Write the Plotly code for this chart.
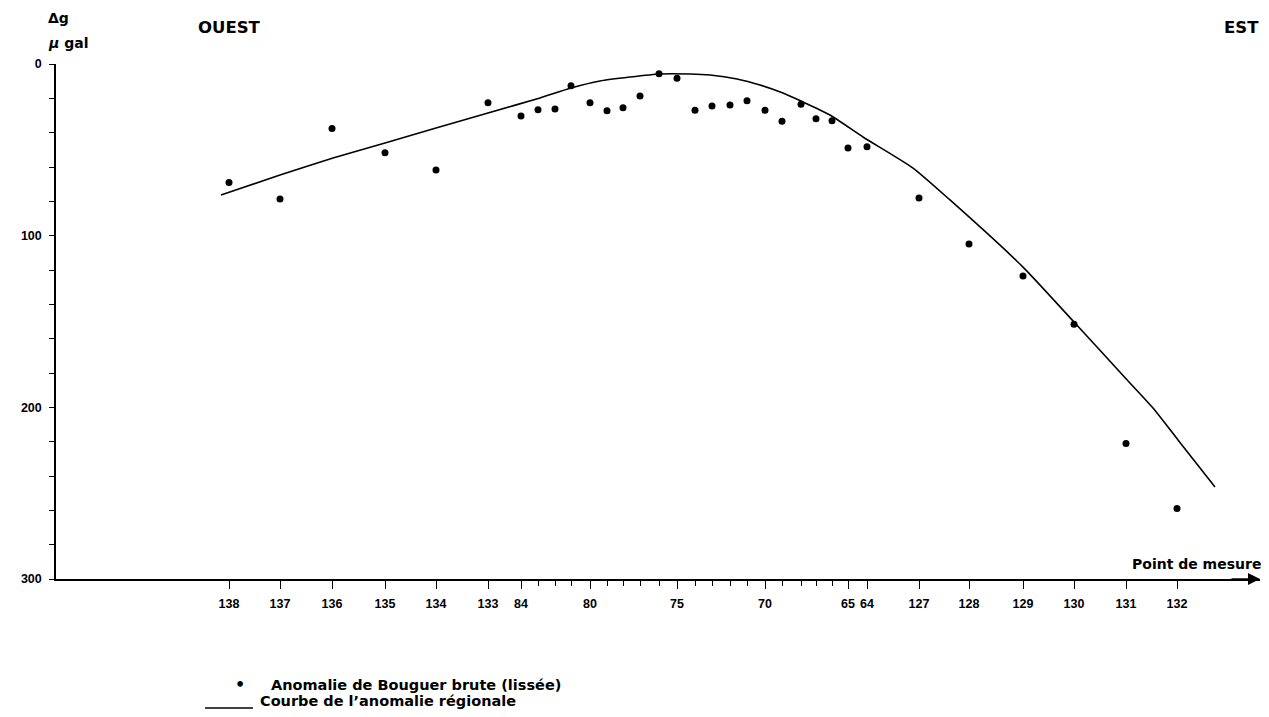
import plotly.graph_objects as go

# ---- Data ----
stations = ["138", "137", "136", "135", "134", "133",
            "84", "83", "82", "81", "80", "79", "78", "77", "76", "75",
            "74", "73", "72", "71", "70", "69", "68", "67", "66", "65", "64",
            "127", "128", "129", "130", "131", "132"]
labeled_stations = ["138", "137", "136", "135", "134", "133", "84", "80", "75",
                    "70", "65", "64", "127", "128", "129", "130", "131", "132"]
# position of each measuring point along the profile (drawing units)
station_pos = [173, 224, 276, 329, 380, 432,
               465, 482, 499, 515, 534, 551, 567, 584, 603, 621,
               639, 656, 674, 691, 709, 726, 745, 760, 776, 792, 811,
               863, 913, 967, 1018, 1070, 1121]
# raw (smoothed) Bouguer anomaly, µgal (plotted downward)
bouguer = [69.1, 78.6, 37.5, 51.7, 61.7, 22.5,
           30.3, 26.6, 26.2, 12.6, 22.5, 27.2, 25.5, 18.6, 5.7, 8.3,
           27.0, 24.5, 23.9, 21.4, 27.0, 33.4, 23.5, 31.9, 33.0, 48.9, 48.2,
           78.1, 104.9, 123.5, 151.6, 221.0, 258.9]
# regional anomaly curve
regional_pos = [165, 224, 277, 329, 380, 432, 484, 515, 544, 574, 604, 634, 654,
                681, 704, 727, 745, 774, 807, 857, 894, 967, 1018, 1070, 1097,
                1122, 1159]
regional = [76.3, 64.7, 54.8, 46.0, 37.3, 28.5, 19.8, 14.0, 9.9, 7.6, 5.8, 5.8, 6.4,
            8.7, 12.2, 16.9, 21.6, 29.7, 42.5, 60.6, 79.2, 118.3, 150.3, 183.3, 200.4,
            219.0, 246.4]
y_tick_vals = [0, 100, 200, 300]
legend_labels = ["Anomalie de Bouguer brute (lissée)",
                 "Courbe de l’anomalie régionale"]

FONT = "Liberation Sans, Arial, sans-serif"
FONT2 = "DejaVu Sans, Liberation Sans, sans-serif"

major_vals = [p for p, s in zip(station_pos, stations) if s in labeled_stations]
major_text = [s for s in stations if s in labeled_stations]
minor_vals = [p for p, s in zip(station_pos, stations) if s not in labeled_stations]

fig = go.Figure()
fig.add_trace(go.Scatter(
    x=station_pos, y=bouguer, mode="markers",
    marker=dict(color="black", size=7),
    name=legend_labels[0], cliponaxis=False))
fig.add_trace(go.Scatter(
    x=regional_pos, y=regional, mode="lines",
    line=dict(color="black", width=1.6, shape="spline", smoothing=0.6),
    name=legend_labels[1]))

X_END = 1204  # end of the drawn profile axis (arrow tip)

# the page body adds an 8px offset, so the figure is sized to fit the window
fig.update_layout(
    width=1261, height=701,
    margin=dict(l=48, r=9, t=56, b=130, autoexpand=False),
    paper_bgcolor="white", plot_bgcolor="white",
    font=dict(family=FONT, color="black", size=12),
    showlegend=False,
    xaxis=dict(range=[0, X_END], showline=True, linecolor="black", linewidth=1.5,
               showgrid=False, zeroline=False, automargin=False,
               tickmode="array", tickvals=major_vals, ticktext=major_text,
               ticks="outside", ticklen=8, tickwidth=1.3, tickcolor="black",
               ticklabelstandoff=4,
               tickfont=dict(family=FONT, size=12.5, weight="bold"),
               minor=dict(tickmode="array", tickvals=minor_vals, ticks="outside",
                          ticklen=5, tickwidth=1.2, tickcolor="black")),
    yaxis=dict(range=[300, 0], showline=True, linecolor="black", linewidth=1.5,
               showgrid=False, zeroline=False, automargin=False,
               tickmode="array", tickvals=y_tick_vals,
               ticktext=[str(v) for v in y_tick_vals],
               ticks="outside", ticklen=5, tickwidth=1.3, tickcolor="black",
               ticklabelstandoff=5,
               tickfont=dict(family=FONT, size=12.5, weight="bold"),
               minor=dict(dtick=20, ticks="outside", ticklen=5, tickwidth=1.2,
                          tickcolor="black")),
)

ann_font = dict(family=FONT2, size=14, color="black", weight="bold")
fig.add_annotation(x=X_END, y=300, xref="x", yref="y", ax=-30, ay=0,
                   showarrow=True, arrowhead=2, arrowsize=1.6, arrowwidth=1.5,
                   arrowcolor="black", text="")
fig.add_annotation(x=1140, y=291.5, xref="x", yref="y", text="Point de mesure",
                   showarrow=False, font=ann_font, xanchor="center")
fig.add_annotation(x=0.1437, y=1.07, xref="paper", yref="paper", text="OUEST",
                   showarrow=False, xanchor="center", yanchor="middle",
                   font=dict(family=FONT2, size=16.5, weight="bold"))
fig.add_annotation(x=0.9850, y=1.07, xref="paper", yref="paper", text="EST",
                   showarrow=False, xanchor="center", yanchor="middle",
                   font=dict(family=FONT2, size=16.5, weight="bold"))
fig.add_annotation(x=0.0017, y=1.089, xref="paper", yref="paper", text="Δg",
                   showarrow=False, xanchor="center", yanchor="middle",
                   font=dict(family=FONT2, size=14, weight="bold"))
fig.add_annotation(x=0.0100, y=1.041, xref="paper", yref="paper",
                   text="<i>μ</i> gal", showarrow=False,
                   xanchor="center", yanchor="middle",
                   font=dict(family=FONT2, size=14, weight="bold"))

# legend (drawn as in the original: bullet / underline followed by text)
fig.add_annotation(x=0.1528, y=-0.2058, xref="paper", yref="paper", text="•",
                   showarrow=False, xanchor="center", yanchor="middle",
                   font=dict(family=FONT2, size=16, weight="bold"))
fig.add_annotation(x=0.1770, y=-0.2058, xref="paper", yref="paper",
                   text=legend_labels[0], showarrow=False,
                   xanchor="left", yanchor="middle",
                   font=dict(family=FONT2, size=14.5, weight="bold"))
fig.add_shape(type="line", xref="paper", yref="paper",
              x0=0.1238, x1=0.1636, y0=-0.2505, y1=-0.2505,
              line=dict(color="black", width=1.3))
fig.add_annotation(x=0.1678, y=-0.2375, xref="paper", yref="paper",
                   text=legend_labels[1], showarrow=False,
                   xanchor="left", yanchor="middle",
                   font=dict(family=FONT2, size=14.5, weight="bold"))

fig.write_html("out.html")
